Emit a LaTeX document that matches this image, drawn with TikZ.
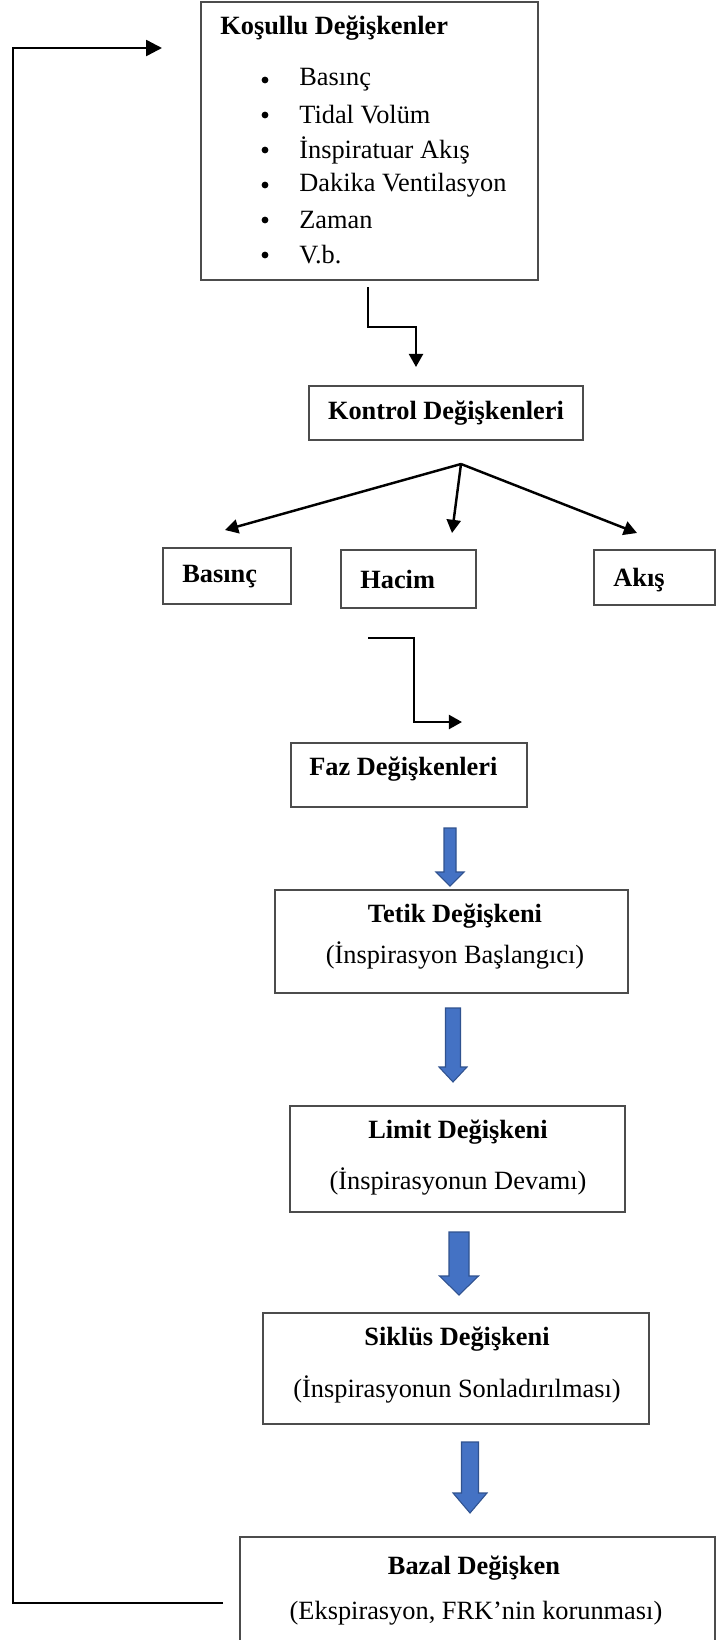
\documentclass[tikz,border=0pt]{standalone}
\usepackage{fontspec}
\setmainfont{Liberation Serif}
\usetikzlibrary{arrows.meta,fit}

\definecolor{arrowblue}{HTML}{4472C4}
\definecolor{arrowedge}{HTML}{2F528F}

\begin{document}
\begin{tikzpicture}[x=0.02cm,y=-0.02cm,
		box/.style={draw=black!70,line width=0.9pt,inner sep=0pt},
		head/.style={font=\fontsize{15}{18}\selectfont\bfseries,inner sep=0pt},
		txt/.style={font=\fontsize{15}{18}\selectfont,inner sep=0pt},
		conn/.style={line width=1.4pt,-{Triangle[length=7.5pt,width=8pt]}},
		blockarrow/.style={fill=arrowblue,draw=arrowedge,line width=0.6pt}]
		\useasboundingbox (0,0) rectangle (716,1640);
		\node[box,fit={(201,2) (538,280)}] (kosul) {};
		\node[head,anchor=west] (kosultitle) at (220,28) {Koşullu Değişkenler};
		\foreach \t [count=\i] in {Basınç,Tidal Volüm,İnspiratuar Akış,Dakika Ventilasyon,Zaman,V.b.} {
			\fill (265,45+35*\i) circle[radius=3.4];
			\node[txt,anchor=west] (item\i) at (299,45+35*\i) {\t};
		}
		\node[box,fit={(309,386) (583,440)}] (kontrol) {};
		\node[head] (kontroltxt) at (kontrol.center) {Kontrol Değişkenleri};
		\node[box,fit={(163,548) (291,604)}] (basinc) {};
		\node[head,anchor=west] (basinctxt) at (182,577) {Basınç};
		\node[box,fit={(341,550) (476,608)}] (hacim) {};
		\node[head,anchor=west] (hacimtxt) at (360,579) {Hacim};
		\node[box,fit={(594,550) (715,605)}] (akis) {};
		\node[head,anchor=west] (akistxt) at (613,580) {Akış};
		\node[box,fit={(291,743) (527,807)}] (faz) {};
		\node[head,anchor=west] (faztxt) at (309,769) {Faz Değişkenleri};
		\node[box,fit={(275,890) (628,993)}] (tetik) {};
		\node[head] (tetiktitle) at (455,916) {Tetik Değişkeni};
		\node[txt] (tetiksub) at (455,955) {(İnspirasyon Başlangıcı)};
		\node[box,fit={(290,1106) (625,1212)}] (limit) {};
		\node[head] (limittitle) at (458,1132) {Limit Değişkeni};
		\node[txt] (limitsub) at (458,1181) {(İnspirasyonun Devamı)};
		\node[box,fit={(263,1313) (649,1424)}] (siklus) {};
		\node[head] (siklustitle) at (457,1339) {Siklüs Değişkeni};
		\node[txt] (siklussub) at (457,1389) {(İnspirasyonun Sonladırılması)};
		\node[box,fit={(240,1537) (715,1645)}] (bazal) {};
		\node[head] (bazaltitle) at (474,1568) {Bazal Değişken};
		\node[txt] (bazalsub) at (476,1613) {(Ekspirasyon, FRK’nin korunması)};
		\coordinate (e1a) at (368,287);
		\coordinate (e1b) at (416,367);
		\draw[conn] (e1a) -- ++(0,40) -| (e1b);
		\coordinate (fan) at (461,464);
		\coordinate (tipb) at (225,530);
		\coordinate (tiph) at (452,533);
		\coordinate (tipa) at (637,533);
		\foreach \t in {tipb,tiph,tipa}
			\draw[conn] (fan) -- (\t);
		\coordinate (e2a) at (368,638);
		\coordinate (e2b) at (462,722);
		\draw[conn] (e2a) -| (414,680) |- (e2b);
		\foreach \cx/\ya/\yb/\sw/\hw/\hl in {450/828/886/6/14/14,453/1008/1082/7.5/14/15,459/1232/1295/10/19.5/19,470/1442/1513/8.5/17/20}
			\draw[blockarrow] (\cx-\sw,\ya) -- (\cx+\sw,\ya) -- (\cx+\sw,\yb-\hl) -- (\cx+\hw,\yb-\hl) -- (\cx,\yb) -- (\cx-\hw,\yb-\hl) -- (\cx-\sw,\yb-\hl) -- cycle;
		\coordinate (fbstart) at (223,1603);
		\coordinate (fbend) at (162,48);
		\draw[line width=1.4pt,-{Triangle[length=9pt,width=9pt]}] (fbstart) -| (13,48) -- (fbend);
	\end{tikzpicture}
\end{document}
